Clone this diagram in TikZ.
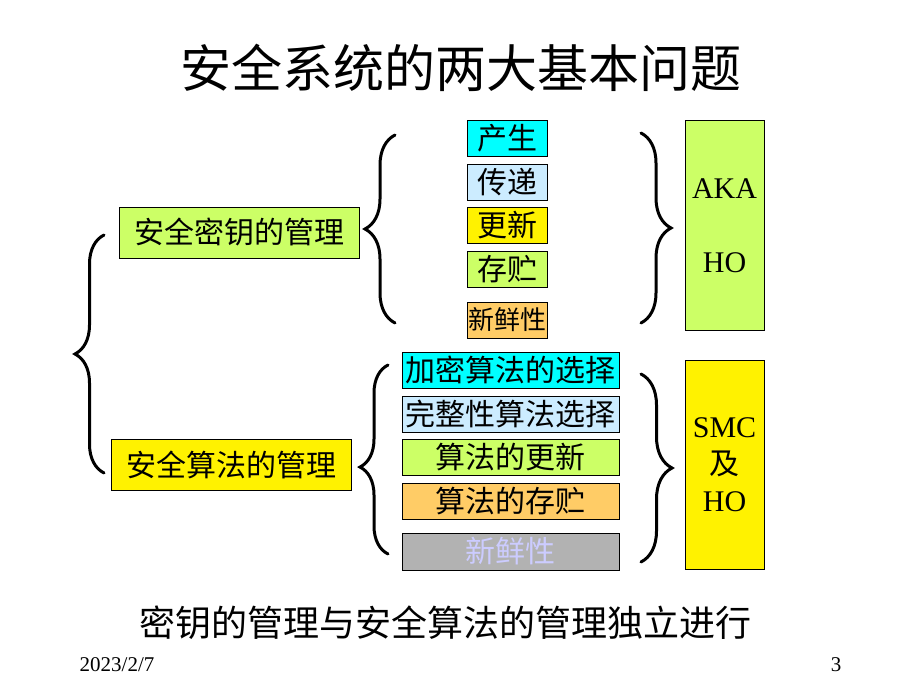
\documentclass[tikz,border=0pt]{standalone}
\usepackage{fontspec}
\setmainfont{Liberation Serif}
\newfontfamily\cjk{Noto Sans CJK SC}
\usepackage{tikz}
\usetikzlibrary{decorations.pathreplacing}

\definecolor{keygreen}{HTML}{CCFF66}
\definecolor{boxcyan}{HTML}{00FFFF}
\definecolor{boxblue}{HTML}{CCECFF}
\definecolor{boxorange}{HTML}{FFCC66}
\definecolor{boxgray}{HTML}{B2B2B2}
\definecolor{fadetext}{HTML}{CCCCFF}

\begin{document}
\begin{tikzpicture}[x = 1pt, y = -1pt,
                        tag/.style = {draw, line width = 1pt, inner sep = 0pt, font = \cjk\fontsize{30}{30}\selectfont},
                        big/.style = {tag, minimum width = 240pt, minimum height = 51pt},
                        small/.style = {tag, minimum width = 80pt, minimum height = 36pt},
                        wide/.style = {tag, minimum width = 217pt, minimum height = 36pt},
                        proto/.style = {draw, line width = 1pt, minimum width = 79pt, minimum height = 209pt, align = center,
                                        font = \fontsize{30}{37}\selectfont},
                        curly/.style = {decorate, line width = 3pt, line cap = round}]
        \useasboundingbox (0,0) rectangle (920,690);

        \node (title) at (461,68) {\cjk\fontsize{51}{51}\selectfont 安全系统的两大基本问题};

        \node [big, fill = keygreen] (KM) at (239,232.5) {安全密钥的管理};
        \node [big, fill = yellow]   (AM) at (231.5,464.5) {安全算法的管理};

        \node [small, fill = boxcyan]   (K1) at (507,138.5) {产生};
        \node [small, fill = boxblue]   (K2) at (507,182) {传递};
        \node [small, fill = yellow]    (K3) at (507,225.5) {更新};
        \node [small, fill = keygreen]  (K4) at (507,269) {存贮};
        \node [small, fill = boxorange, font = \cjk\fontsize{26}{26}\selectfont] (K5) at (507,320) {新鲜性};

        \node [wide, fill = boxcyan]   (A1) at (510.5,370) {加密算法的选择};
        \node [wide, fill = boxblue]   (A2) at (510.5,414) {完整性算法选择};
        \node [wide, fill = keygreen]  (A3) at (510.5,457) {算法的更新};
        \node [wide, fill = boxorange] (A4) at (510.5,501) {算法的存贮};
        \node [wide, fill = boxgray, minimum height = 37pt, text = fadetext] (A5) at (510.5,551.5) {新鲜性};

        \node [proto, fill = keygreen] (P1) at (724.5,225.5) {AKA\\ \\HO};
        \node [proto, fill = yellow]   (P2) at (724.5,464.5) {SMC\\{\cjk 及}\\HO};

        \node (note) at (445,623) {\cjk\fontsize{36}{36}\selectfont 密钥的管理与安全算法的管理独立进行};
        \node [font = \fontsize{21}{21}\selectfont] (date) at (117,665) {2023/2/7};
        \node [font = \fontsize{21}{21}\selectfont] (page) at (836,665) {3};

        % braces
        \draw [curly, decoration = {brace, amplitude = 29pt, aspect = 0.5}] (104,473) -- (104,235);
        \draw [curly, decoration = {brace, amplitude = 30pt, aspect = 0.5}] (395,323) -- (395,135);
        \draw [curly, decoration = {brace, amplitude = 30pt, aspect = 0.5}] (641,133) -- (641,323);
        \draw [curly, decoration = {brace, amplitude = 28pt, aspect = 0.46}] (388,554) -- (388,365);
        \draw [curly, decoration = {brace, amplitude = 31pt, aspect = 0.5}] (641,374) -- (641,562);
        \end{tikzpicture}
\end{document}
